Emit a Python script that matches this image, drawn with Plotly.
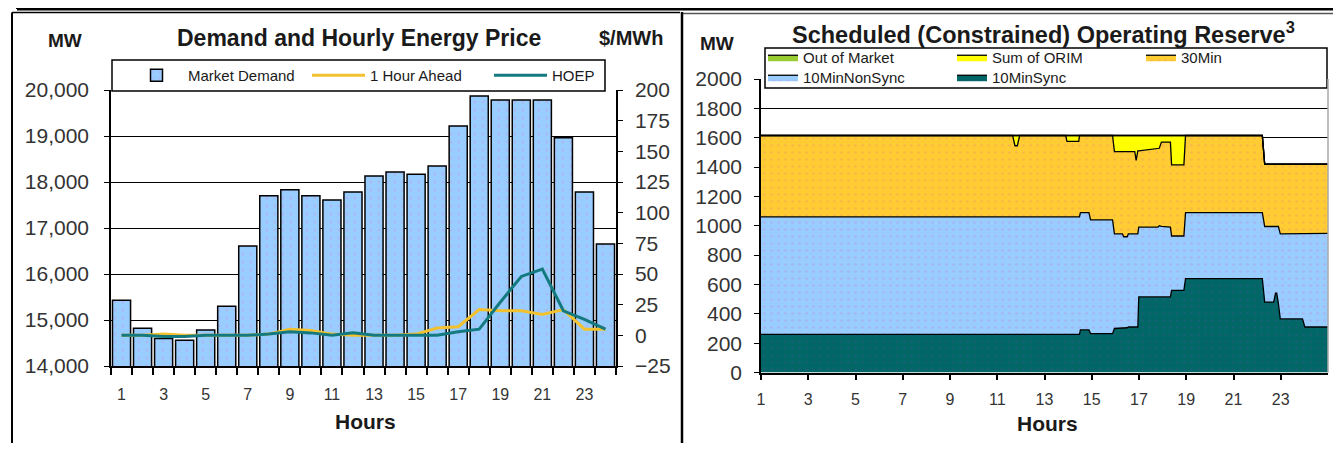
import plotly.graph_objects as go

# Page is shown with the browser's default 8px body margin; size the figure to fit inside.
PAGE_W, PAGE_H = 1341, 451
OFF = 8
W, H = PAGE_W - 2 * OFF, PAGE_H - 2 * OFF
def X(p): return (p - OFF) / W
def Y(p): return 1 - (p - OFF) / H

FONT = "Liberation Sans, Arial, sans-serif"
TXT = "#1a1a1a"

# ---------------- Left chart data ----------------
hours = list(range(1, 25))
market_demand = [15430, 14820, 14600, 14560, 14780, 15300, 16610, 17700, 17830, 17700,
                 17610, 17780, 18130, 18220, 18170, 18350, 19220, 19870, 19780, 19780,
                 19780, 18960, 17780, 16650]
hour_ahead = [0, 0, 1, 0, 0, 0, 0, 1, 5, 4, 1, 0, 0, 0, 1, 6, 7, 21, 20, 20, 17, 21, 5, 5]
hoep = [0, 0, -1, -1, 0, 0, 0, 1, 3, 2, 0, 2, 0, 0, 0, 0, 3, 5, 27, 48, 54, 20, 13, 5]
hour_ticks = [1, 3, 5, 7, 9, 11, 13, 15, 17, 19, 21, 23]

# ---------------- Right chart data (MW, per series, at shared hour positions) ----------------
res_hours = [1.00, 11.65, 11.75, 11.85, 11.95, 13.90, 13.95, 14.45, 14.48, 14.52,
             14.88, 14.95, 15.88, 15.96, 16.30, 16.35, 16.50, 16.55, 16.82, 16.88,
             16.95, 16.99, 17.80, 17.86, 17.95, 18.33, 18.38, 18.90, 18.97, 22.22,
             22.32, 22.70, 22.78, 22.83, 22.90, 22.98, 23.92, 24.02, 25.00]
sync_10min = [260, 260, 260, 260, 260, 260, 260, 260, 260, 290,
              290, 265, 265, 300, 300, 300, 305, 310, 310, 310,
              310, 515, 515, 515, 515, 515, 560, 560, 640, 640,
              480, 480, 540, 540, 470, 365, 365, 310, 310]
nonsync_10min = [800, 800, 800, 800, 800, 800, 800, 800, 800, 800,
                 800, 775, 775, 645, 645, 625, 620, 635, 635, 635,
                 635, 475, 475, 485, 480, 475, 370, 370, 450, 450,
                 515, 515, 455, 455, 525, 580, 580, 635, 638]
min30 = [555, 555, 485, 485, 555, 555, 515, 515, 555, 525,
         525, 575, 575, 560, 560, 580, 580, 560, 560, 500,
         565, 520, 535, 528, 575, 580, 485, 485, 525, 525,
         425, 425, 425, 425, 425, 475, 475, 475, 472]
sum_orim = [0, 0, 70, 70, 0, 0, 40, 40, 0, 0,
            0, 0, 0, 110, 110, 110, 110, 110, 110, 170,
            105, 105, 90, 87, 45, 45, 200, 200, 0, 0,
            0, 0, 0, 0, 0, 0, 0, 0, 0]
out_of_market = [0, 0, 0, 0, 0, 0, 0, 0, 0, 0,
                 0, 0, 0, 0, 0, 0, 0, 0, 0, 0,
                 0, 0, 0, 0, 0, 0, 0, 0, 0, 0,
                 0, 0, 0, 0, 0, 0, 0, 0, 0]

fig = go.Figure()

fig.add_trace(go.Bar(
    x=hours, y=market_demand, name="Market Demand", xaxis="x", yaxis="y",
    marker=dict(color="#99CCFF", line=dict(color="black", width=1.5),
                pattern=dict(shape=".", fgcolor="#b9a6e6", size=8, solidity=0.1)),
    legend="legend", hoverinfo="skip"))
fig.add_trace(go.Scatter(
    x=hours, y=hour_ahead, name="1 Hour Ahead", mode="lines", xaxis="x", yaxis="y2",
    line=dict(color="#F2C12E", width=3), legend="legend"))
fig.add_trace(go.Scatter(
    x=hours, y=hoep, name="HOEP", mode="lines", xaxis="x", yaxis="y2",
    line=dict(color="#137A7F", width=3), legend="legend"))

areas = [
    ("10MinSync", sync_10min, "#006666", "#2f5a86", "legend3"),
    ("10MinNonSync", nonsync_10min, "#99CCFF", "#b39ee0", "legend3"),
    ("30Min", min30, "#FFCC33", "#eba35a", "legend2"),
    ("Sum of ORIM", sum_orim, "#FFFF00", "#FFFF00", "legend2"),
    ("Out of Market", out_of_market, "#99CC33", "#99CC33", "legend2"),
]
for name, vals, col, dot, lg in areas:
    fig.add_trace(go.Scatter(
        x=res_hours, y=vals, name=name, mode="lines", stackgroup="res",
        xaxis="x2", yaxis="y3", line=dict(color="black", width=1.3),
        fillcolor=col,
        fillpattern=dict(shape=".", bgcolor=col, fgcolor=dot, size=7, solidity=0.12),
        legend=lg))

axis_common = dict(showline=True, linecolor="black", linewidth=1.5, tickcolor="black",
                   zeroline=False, automargin=False)

fig.update_layout(
    width=W, height=H, margin=dict(l=0, r=0, t=0, b=0, pad=0, autoexpand=False),
    paper_bgcolor="white", plot_bgcolor="rgba(0,0,0,0)",
    font=dict(family=FONT, color=TXT, size=18),
    bargap=0.14,
    xaxis=dict(domain=[X(111), X(616)], range=[0.5, 24.5], anchor="y",
               tickmode="array", tickvals=hour_ticks, ticks="", ticklabelstandoff=13,
               tickfont=dict(size=16, color="#333", family=FONT), showgrid=False,
               minor=dict(tickmode="array", tickvals=[h - 0.5 for h in hours] + [24.5],
                          ticks="outside", ticklen=7, tickwidth=1.5, tickcolor="black",
                          showgrid=False),
               **axis_common),
    yaxis=dict(domain=[Y(366), Y(90)], range=[14000, 20000], dtick=1000, tickformat=",",
               anchor="x", ticks="outside", ticklen=5, ticklabelstandoff=11,
               tickfont=dict(size=21, color="#333", family=FONT),
               showgrid=True, gridcolor="black", gridwidth=1, **axis_common),
    yaxis2=dict(overlaying="y", side="right", anchor="x", range=[-25, 200], dtick=25,
                ticks="outside", ticklen=5, ticklabelstandoff=8,
                tickfont=dict(size=21, color="#333", family=FONT), showgrid=False,
                **axis_common),
    xaxis2=dict(domain=[X(761), X(1328)], range=[1, 25], anchor="y3",
                tickmode="array", tickvals=hour_ticks, ticks="outside", ticklen=6,
                tickwidth=1.5, ticklabelstandoff=6,
                tickfont=dict(size=16, color="#333", family=FONT),
                showgrid=False, **axis_common),
    yaxis3=dict(domain=[Y(372.5), Y(79)], range=[0, 2000], dtick=200, anchor="x2",
                ticks="outside", ticklen=5, ticklabelstandoff=8,
                tickfont=dict(size=21, color="#333", family=FONT),
                showgrid=True, gridcolor="black", gridwidth=1, **axis_common),
    legend=dict(orientation="h", x=X(125), y=Y(59), xanchor="left", yanchor="top",
                itemwidth=53, entrywidth=114, traceorder="normal",
                font=dict(size=15, family=FONT, color=TXT),
                bgcolor="rgba(0,0,0,0)", borderwidth=0),
    legend2=dict(orientation="h", x=X(763), y=Y(41), xanchor="left", yanchor="top",
                 itemwidth=30, entrywidth=144, traceorder="reversed",
                 font=dict(size=15, family=FONT, color=TXT),
                 bgcolor="rgba(0,0,0,0)", borderwidth=0),
    legend3=dict(orientation="h", x=X(763), y=Y(61), xanchor="left", yanchor="top",
                 itemwidth=30, entrywidth=144, traceorder="reversed",
                 font=dict(size=15, family=FONT, color=TXT),
                 bgcolor="rgba(0,0,0,0)", borderwidth=0),
)

def pline(x0, y0, x1, y1, w=1.5, c="black"):
    return dict(type="line", xref="paper", yref="paper", x0=X(x0), y0=Y(y0),
                x1=X(x1), y1=Y(y1), line=dict(color=c, width=w), layer="above")

shapes = [
    dict(type="rect", xref="paper", yref="paper", x0=X(112), x1=X(605), y0=Y(91), y1=Y(60),
         line=dict(color="black", width=1.5), fillcolor="white", layer="above"),
    dict(type="rect", xref="paper", yref="paper", x0=X(765), x1=X(1327), y0=Y(88), y1=Y(48),
         line=dict(color="black", width=1.5), fillcolor="white", layer="above"),
    pline(17, 9, 1341, 9, w=3),
    pline(12, 12.5, 680, 12.5, w=1.5),
    pline(12, 12.5, 12, 451, w=2),
    pline(682, 13.5, 1341, 13.5, w=1.5, c="#555"),
    pline(682, 12, 682, 451, w=2.5),
    pline(1328, 79, 1328, 372.5, w=1.5, c="#aaaaaa"),
]
for vx in [17, 208, 399, 602, 792, 816, 1019, 1198]:
    shapes.append(pline(vx, 0, vx, 9, w=2))
fig.update_layout(shapes=shapes)

def ann(text, x, y, size, bold=True):
    return dict(text=text, xref="paper", yref="paper", x=X(x), y=Y(y),
                xanchor="center", yanchor="middle", showarrow=False,
                font=dict(size=size, family=FONT, color=TXT,
                          weight="bold" if bold else "normal"))

fig.update_layout(annotations=[
    ann("MW", 65, 40, 19),
    ann("Demand and Hourly Energy Price", 359, 38, 23),
    ann("$/MWh", 631, 38, 20),
    ann("Hours", 365, 421, 21),
    ann("MW", 717, 43, 19),
    ann("Scheduled (Constrained) Operating Reserve<sup>3</sup>", 1043, 33, 23.5),
    ann("Hours", 1047, 423, 21),
])

fig.write_html("out.html", config={"displayModeBar": False})
